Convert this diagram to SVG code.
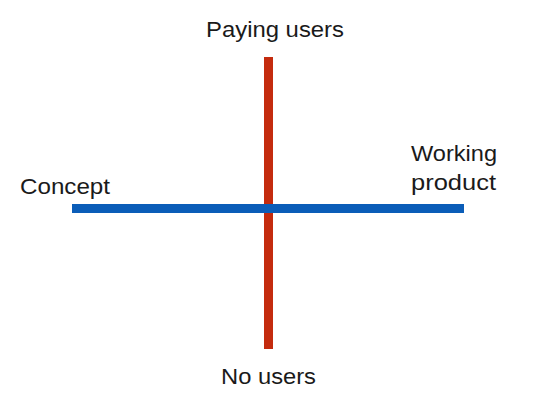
<svg xmlns="http://www.w3.org/2000/svg" width="542" height="411" viewBox="0 0 542 411">
<style>
.lbl{font-family:"Liberation Sans",Arial,sans-serif;font-size:22px;fill:#1a1a1a}
</style>
<rect width="542" height="411" fill="#fff"/>
<g id="connectors">
<rect id="vertical-axis" x="264" y="57" width="9" height="292" fill="#c42b0e"/>
<rect id="horizontal-axis" x="72" y="204" width="392" height="9" fill="#0b5db8"/>
</g>
<g id="node-paying"><text class="lbl" x="206" y="37" textLength="138" lengthAdjust="spacingAndGlyphs">Paying users</text></g>
<g id="node-nousers"><text class="lbl" x="221" y="384" textLength="95" lengthAdjust="spacingAndGlyphs">No users</text></g>
<g id="node-concept"><text class="lbl" x="20" y="194" textLength="90" lengthAdjust="spacingAndGlyphs">Concept</text></g>
<g id="node-working"><text class="lbl" x="411" y="161" textLength="86" lengthAdjust="spacingAndGlyphs">Working</text><text class="lbl" x="411" y="190" textLength="85" lengthAdjust="spacingAndGlyphs">product</text></g>
</svg>
